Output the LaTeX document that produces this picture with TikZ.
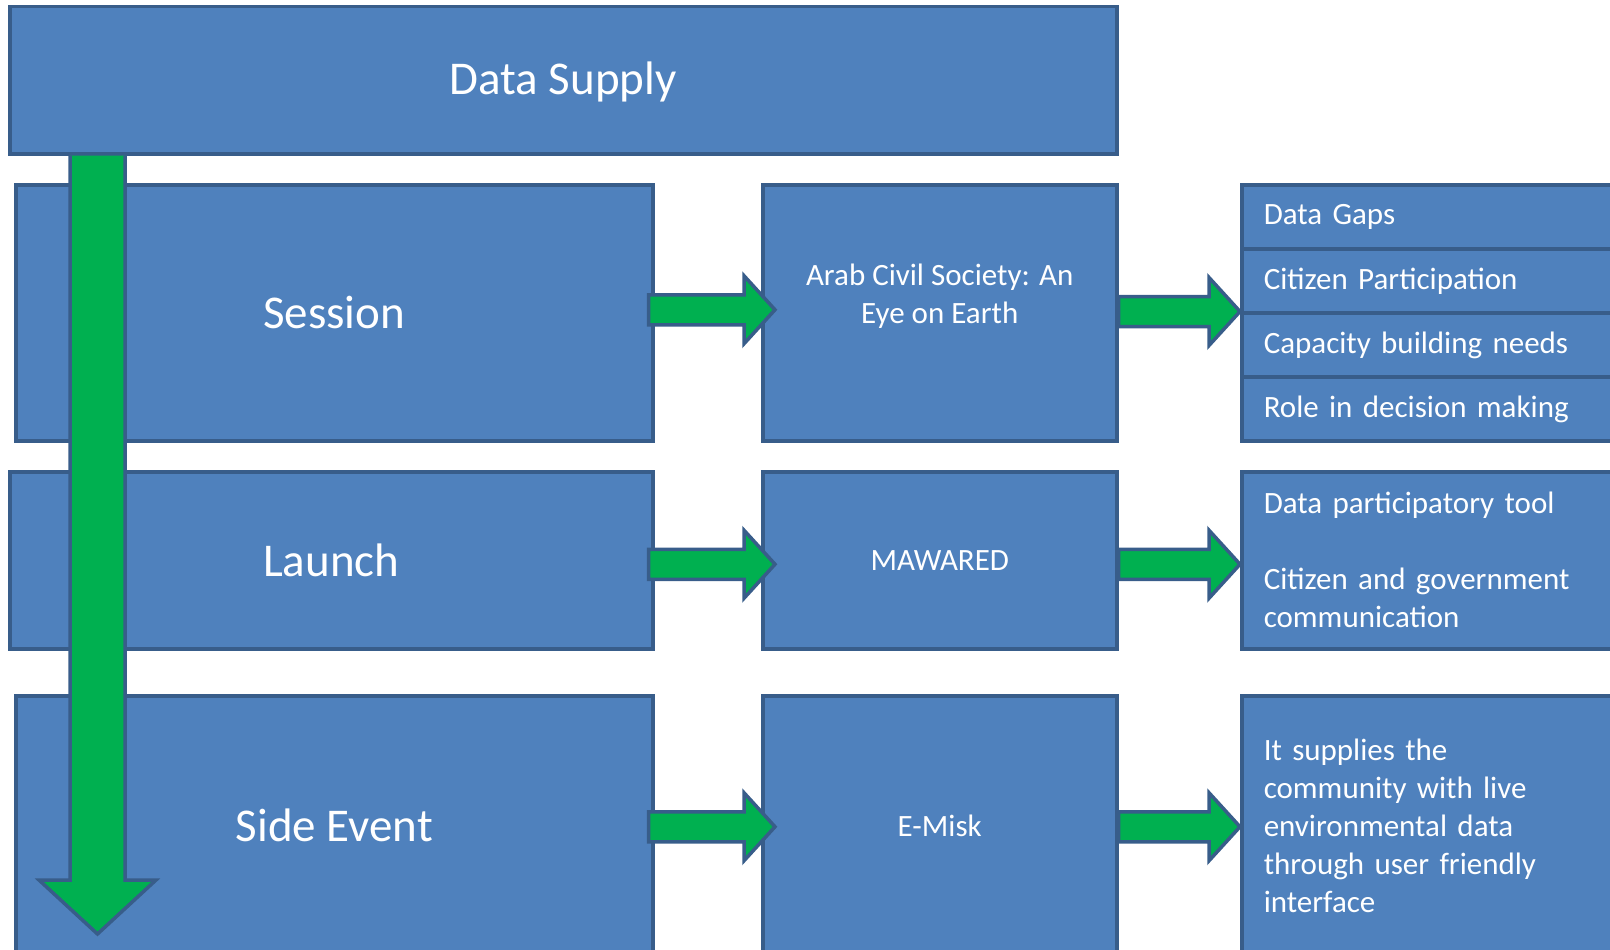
\documentclass[tikz,border=0pt]{standalone}
\usepackage{fontspec}
\setmainfont{Carlito}
\usepackage{tikz}
\usetikzlibrary{calc}

\definecolor{boxblue}{HTML}{4F81BD}
\definecolor{boxline}{HTML}{385D8A}
\definecolor{flowgreen}{HTML}{00B050}

\tikzset{
  box/.style={draw=boxline, fill=boxblue, line width=3.5pt, text=white, inner sep=0pt,
    anchor=north west, align=center, font=\fontsize{31}{38}\selectfont},
  bigbox/.style={box, font=\fontsize{47}{56}\selectfont},
  listbox/.style={box, align=left, text width=327pt, inner xsep=22pt, minimum width=371pt},
  listrow/.style={listbox, minimum height=64pt, text depth=4pt},
  flow/.style={fill=flowgreen, draw=boxline, line width=3.5pt, line join=miter},
}

% block arrow from #1 to the tip #2
\newcommand{\sidearrow}[2]{%
  \filldraw[flow] let \p1=(#1), \p2=(#2) in
    (\x1,\y2+15pt) -- (\x2-31pt,\y2+15pt) -- (\x2-31pt,\y2+34pt) -- (\x2,\y2)
    -- (\x2-31pt,\y2-34pt) -- (\x2-31pt,\y2-15pt) -- (\x1,\y2-15pt) -- cycle;}

\begin{document}
\begin{tikzpicture}[x=1pt, y=-1pt]
	\useasboundingbox (0,0) rectangle (1610,950);

	\node[bigbox, minimum width=637pt, minimum height=256pt] (session) at (14,183) {Session};
	\node[bigbox, minimum width=643pt, minimum height=177pt] (launch) at (8,470) {Launch};
	\node[bigbox, minimum width=637pt, minimum height=260pt] (sideevent) at (14,694) {Side Event};

	\node[box, minimum width=354pt, minimum height=256pt] (arab) at (761,183) {Arab Civil Society: An\\Eye on Earth\\\mbox{}};
	\node[box, minimum width=354pt, minimum height=177pt] (mawared) at (761,470) {MAWARED};
	\node[box, minimum width=354pt, minimum height=260pt] (emisk) at (761,694) {E-Misk};

	\node[listrow] (gaps) at (1240,183) {Data Gaps};
	\node[listrow] (part) at (1240,247) {Citizen Participation};
	\node[listrow] (needs) at (1240,311) {Capacity building needs};
	\node[listrow] (role) at (1240,375) {Role in decision making};
	\node[listbox, minimum height=177pt] (tools) at (1240,470) {Data participatory tool\\\mbox{}\\Citizen and government\\communication};
	\node[listbox, minimum height=260pt] (supplies) at (1240,694) {It supplies the\\community with live\\environmental data\\through user friendly\\interface};

	\node[bigbox, minimum width=1107pt, minimum height=147pt, text depth=5pt] (supply) at (8,5) {Data Supply};

	\coordinate (flowtip) at (97.5,934);
	\fill[flow, draw=none] let \p1=(supply.south), \p2=(flowtip) in
		(\x2-27.5pt,\y1) -- (\x2-27.5pt,\y2+54pt) -- (\x2-58.5pt,\y2+54pt) -- (\x2,\y2)
		-- (\x2+58.5pt,\y2+54pt) -- (\x2+27.5pt,\y2+54pt) -- (\x2+27.5pt,\y1) -- cycle;
	\draw[flow, fill=none] let \p1=(supply.south), \p2=(flowtip) in
		(\x2-27.5pt,\y1) -- (\x2-27.5pt,\y2+54pt) -- (\x2-58.5pt,\y2+54pt) -- (\x2,\y2)
		-- (\x2+58.5pt,\y2+54pt) -- (\x2+27.5pt,\y2+54pt) -- (\x2+27.5pt,\y1);

	\sidearrow{$(session.east)+(-6,0)$}{$(arab.west)+(14,-3)$}
	\sidearrow{$(launch.east)+(-6,0)$}{$(mawared.west)+(14,4)$}
	\sidearrow{$(sideevent.east)+(-6,0)$}{$(emisk.west)+(14,1)$}
	\sidearrow{arab.east}{$(part.south west)+(0,-3)$}
	\sidearrow{mawared.east}{$(tools.west)+(0,4)$}
	\sidearrow{emisk.east}{$(supplies.west)+(0,1)$}
\end{tikzpicture}
\end{document}
